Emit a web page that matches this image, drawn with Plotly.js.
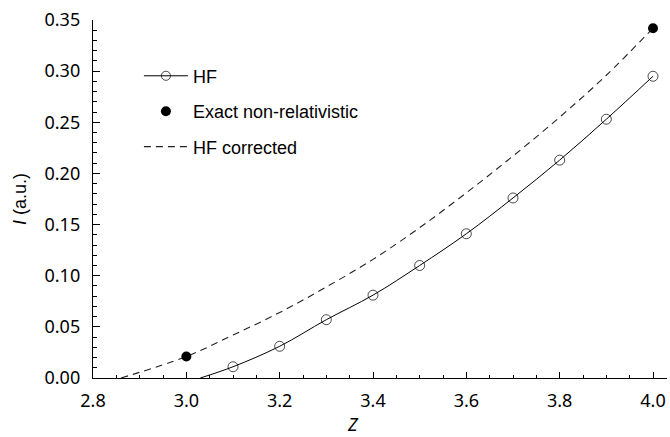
<!DOCTYPE html>
<html>
<head>
<meta charset="utf-8">
<script src="https://cdn.plot.ly/plotly-3.0.1.min.js"></script>
<style>
  html, body { margin: 0; padding: 0; background: #fff; }
  #chart { width: 670px; height: 437px; }
</style>
</head>
<body>
<div id="chart"></div>
<script>
// HF ionization energies (open circles); first point is where the curve meets I = 0
const hfZ = [3.03, 3.1, 3.2, 3.3, 3.4, 3.5, 3.6, 3.7, 3.8, 3.9, 4.0];
const hfI = [0.0, 0.011, 0.031, 0.057, 0.081, 0.110, 0.141, 0.176, 0.213, 0.253, 0.295];
const hfMarkerSize = [0, 10, 10, 10, 10, 10, 10, 10, 10, 10, 10];

// Exact non-relativistic values (filled circles)
const exactZ = [3.0, 4.0];
const exactI = [0.021, 0.342];

// HF corrected curve (dashed)
const corrZ = [2.86, 3.0, 3.1, 3.2, 3.3, 3.4, 3.5, 3.6, 3.7, 3.8, 3.9, 4.0];
const corrI = [0.0, 0.021, 0.042, 0.064, 0.089, 0.116, 0.147, 0.181, 0.217, 0.255, 0.296, 0.342];

const xTicks = [2.8, 3.0, 3.2, 3.4, 3.6, 3.8, 4.0];
const yTicks = [0.00, 0.05, 0.10, 0.15, 0.20, 0.25, 0.30, 0.35];

const tickFont = {family: '"Noto Sans", "Open Sans", sans-serif', size: 18, color: '#000'};
const textFont = {family: '"Liberation Sans", Arial, sans-serif', size: 18, color: '#000'};

const traces = [
  {
    x: corrZ, y: corrI, type: 'scatter', mode: 'lines', name: 'HF corrected',
    line: {color: '#222', width: 1.1, dash: '7px,5px', shape: 'spline'},
    legendgroup: 'c', legendrank: 3, cliponaxis: true
  },
  {
    x: hfZ, y: hfI, type: 'scatter', mode: 'lines+markers', name: 'HF',
    line: {color: '#000', width: 1, shape: 'spline'},
    marker: {symbol: 'circle-open', size: hfMarkerSize, color: '#000', line: {width: 1, color: '#000'}},
    legendgroup: 'a', legendrank: 1, cliponaxis: false
  },
  {
    x: exactZ, y: exactI, type: 'scatter', mode: 'markers', name: 'Exact non-relativistic',
    marker: {symbol: 'circle', size: 10, color: '#000'},
    legendgroup: 'b', legendrank: 2, cliponaxis: false
  }
];

const layout = {
  width: 670, height: 437,
  margin: {l: 93, r: 3, t: 20, b: 59},
  paper_bgcolor: '#fff', plot_bgcolor: '#fff',
  showlegend: true,
  legend: {
    x: 0.08, y: 0.895, xanchor: 'left', yanchor: 'top',
    font: textFont, bgcolor: 'rgba(0,0,0,0)',
    traceorder: 'grouped', tracegroupgap: 9, itemwidth: 44
  },
  xaxis: {
    range: [2.8, 4.03], tickvals: xTicks, tickformat: '.1f',
    ticks: 'inside', ticklen: 6, tickwidth: 1, tickcolor: '#000',
    minor: {dtick: 0.05, tick0: 2.8, ticks: 'inside', ticklen: 3, tickwidth: 1, tickcolor: '#000'},
    showline: true, linecolor: '#000', linewidth: 1.2, mirror: false,
    showgrid: false, zeroline: false, tickfont: tickFont, ticklabelstandoff: 6
  },
  yaxis: {
    range: [0, 0.35], tickvals: yTicks, tickformat: '.2f',
    ticks: 'inside', ticklen: 7, tickwidth: 1, tickcolor: '#000',
    minor: {dtick: 0.01, tick0: 0, ticks: 'inside', ticklen: 4, tickwidth: 1, tickcolor: '#000'},
    showline: true, linecolor: '#000', linewidth: 1.2, mirror: false,
    showgrid: false, zeroline: false, tickfont: tickFont, ticklabelstandoff: 8,
    title: {text: '<i>I</i> (a.u.)', font: textFont, standoff: 13}
  },
  annotations: [{
    text: '<i>Z</i>', xref: 'paper', yref: 'paper', x: 0.453, y: -0.128,
    xanchor: 'center', yanchor: 'middle', showarrow: false, borderpad: 0,
    font: {family: '"Noto Sans", sans-serif', size: 18, color: '#000'}
  }]
};

Plotly.newPlot('chart', traces, layout, {staticPlot: true, displayModeBar: false});
</script>
</body>
</html>
